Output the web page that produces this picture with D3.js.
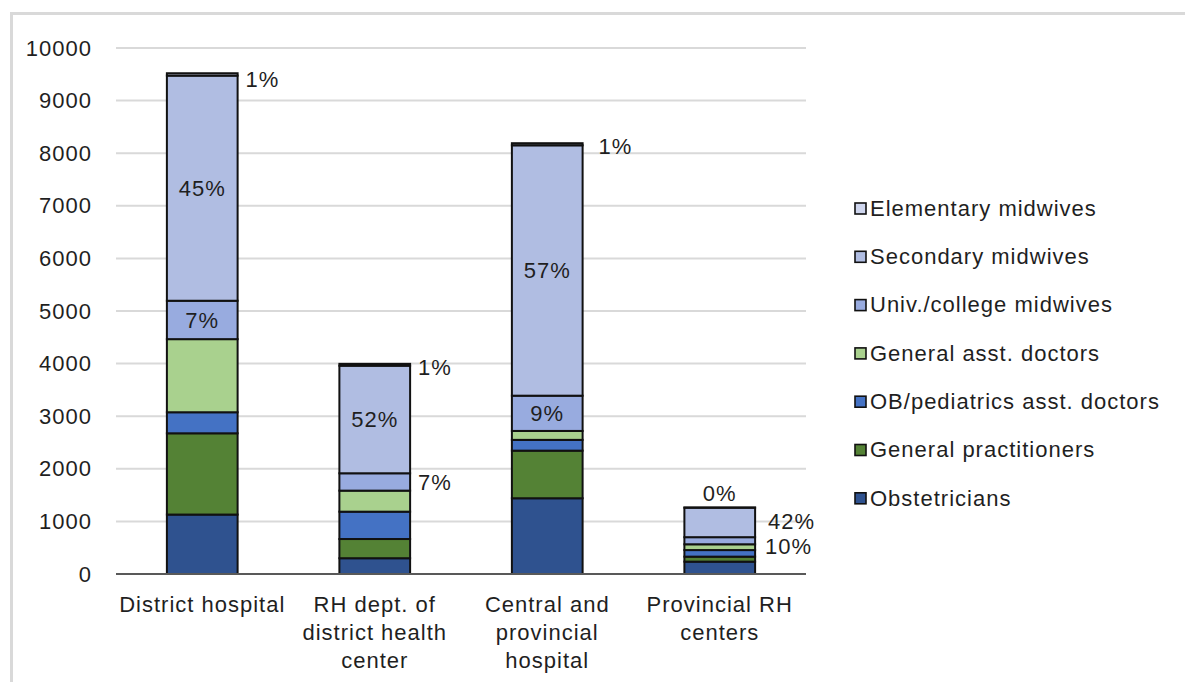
<!DOCTYPE html>
<html>
<head>
<meta charset="utf-8">
<script src="https://cdn.jsdelivr.net/npm/d3@7"></script>
<style>
  body { margin: 0; background: #fff; }
  text { font-family: "Liberation Sans", Arial, sans-serif; fill: #1f1f1f; }
</style>
</head>
<body>
<svg id="chart" width="1185" height="682"></svg>
<script>
// Stacked bars: maternal health staff by facility type
const categories = [
  "District hospital",
  "RH dept. of\ndistrict health\ncenter",
  "Central and\nprovincial\nhospital",
  "Provincial RH\ncenters"
];

// series bottom -> top
const seriesNames = [
  "Obstetricians",
  "General practitioners",
  "OB/pediatrics asst. doctors",
  "General asst. doctors",
  "Univ./college midwives",
  "Secondary midwives",
  "Elementary midwives"
];
const obstetricians = [1130, 300, 1440, 235];
const generalPractitioners = [1545, 365, 905, 95];
const obPedAsstDoctors = [400, 520, 205, 125];
const generalAsstDoctors = [1390, 400, 170, 110];
const univMidwives = [730, 330, 670, 135];
const secondaryMidwives = [4280, 2045, 4760, 560];
const elementaryMidwives = [45, 35, 40, 5];

const yTicks = [0, 1000, 2000, 3000, 4000, 5000, 6000, 7000, 8000, 9000, 10000];

// data labels shown on the midwife series
const univLabels = ["7%", "7%", "9%", "10%"];
const secondaryLabels = ["45%", "52%", "57%", "42%"];
const elementaryLabels = ["1%", "1%", "1%", "0%"];

const colors = ["#2f528f", "#548235", "#4472c4", "#a9d18e", "#98abdf", "#b0bde2", "#cfd6ee"];

(function() {
  const svg = d3.select("#chart");
  const margin = { top: 48, left: 116 };
  const innerW = 690, innerH = 526;
  const fs = 22, ls = 1;

  // outer frame
  svg.append("rect")
    .attr("x", 11.5).attr("y", 13.5)
    .attr("width", 1200).attr("height", 700)
    .attr("fill", "none")
    .attr("stroke", "#d9d9d9")
    .attr("stroke-width", 3);

  const g = svg.append("g").attr("transform", `translate(${margin.left},${margin.top})`);

  const rows = categories.map((c, i) => ({
    cat: c,
    [seriesNames[0]]: obstetricians[i],
    [seriesNames[1]]: generalPractitioners[i],
    [seriesNames[2]]: obPedAsstDoctors[i],
    [seriesNames[3]]: generalAsstDoctors[i],
    [seriesNames[4]]: univMidwives[i],
    [seriesNames[5]]: secondaryMidwives[i],
    [seriesNames[6]]: elementaryMidwives[i]
  }));

  const x = d3.scaleBand().domain(categories).range([0, innerW]).paddingInner(0.59).paddingOuter(0.295);
  const y = d3.scaleLinear().domain([0, 10000]).range([innerH, 0]);
  const color = d3.scaleOrdinal().domain(seriesNames).range(colors);

  // gridlines
  g.selectAll(".grid")
    .data(yTicks.filter(t => t > 0))
    .join("line")
    .attr("x1", 0).attr("x2", innerW)
    .attr("y1", d => y(d)).attr("y2", d => y(d))
    .attr("stroke", "#d9d9d9")
    .attr("stroke-width", 2);

  // y tick labels
  const yAxis = g.append("g")
    .call(d3.axisLeft(y).tickValues(yTicks).tickFormat(d3.format("d")).tickSize(0).tickPadding(24));
  yAxis.select(".domain").remove();
  yAxis.selectAll("text")
    .attr("font-size", fs)
    .attr("letter-spacing", ls)
    .attr("fill", "#1f1f1f")
    .style("font-family", "'Liberation Sans', Arial, sans-serif");

  const stacked = d3.stack().keys(seriesNames)(rows);

  g.selectAll(".series")
    .data(stacked)
    .join("g")
    .attr("fill", d => color(d.key))
    .selectAll("rect")
    .data(d => d)
    .join("rect")
    .attr("x", d => x(d.data.cat))
    .attr("y", d => y(d[1]))
    .attr("width", x.bandwidth())
    .attr("height", d => y(d[0]) - y(d[1]))
    .attr("stroke", "#111")
    .attr("stroke-width", 2);

  // x axis line
  g.append("line")
    .attr("x1", 0).attr("x2", innerW)
    .attr("y1", innerH).attr("y2", innerH)
    .attr("stroke", "#595959")
    .attr("stroke-width", 2);

  // category labels (multi-line)
  categories.forEach(c => {
    const t = g.append("text")
      .attr("text-anchor", "middle")
      .attr("font-size", fs)
      .attr("letter-spacing", ls);
    c.split("\n").forEach((line, k) => {
      t.append("tspan")
        .attr("x", x(c) + x.bandwidth() / 2)
        .attr("y", innerH + 38 + k * 28)
        .text(line);
    });
  });

  // data labels
  function label(layer, texts, mode, dx, dy) {
    layer.forEach((d, i) => {
      const cx = x(d.data.cat) + x.bandwidth() / 2;
      const m = mode[i];
      let tx = cx, ty = (y(d[0]) + y(d[1])) / 2, anchor = "middle";
      if (m === "right") { tx = x(d.data.cat) + x.bandwidth() + 8; anchor = "start"; }
      if (m === "top") { ty = y(d[1]) - 14; }
      if (m === "corner") { tx = x(d.data.cat) + x.bandwidth() + 8; ty = y(d[1]) + 6; anchor = "start"; }
      g.append("text")
        .attr("x", tx + (dx[i] || 0))
        .attr("y", ty + (dy[i] || 0))
        .attr("dy", "0.35em")
        .attr("text-anchor", anchor)
        .attr("font-size", fs)
        .attr("letter-spacing", ls)
        .text(texts[i]);
    });
  }
  label(stacked[4], univLabels, ["in", "right", "in", "right"], [0, 0, 0, 2], [0, 0, 0, 6]);
  label(stacked[5], secondaryLabels, ["in", "in", "in", "right"], [0, 0, 0, 5], [0, 0, 0, -1]);
  label(stacked[6], elementaryLabels, ["corner", "corner", "corner", "top"], [0, 0, 8, 0], [0, -3, -3, 0]);

  // legend (top entry = top of stack)
  const legend = svg.append("g").attr("transform", "translate(855,208)");
  const order = seriesNames.slice().reverse();
  order.forEach((name, i) => {
    const row = legend.append("g").attr("transform", `translate(0,${i * 48.3})`);
    row.append("rect")
      .attr("x", 0).attr("y", -5)
      .attr("width", 11).attr("height", 11)
      .attr("fill", color(name))
      .attr("stroke", "#111")
      .attr("stroke-width", 1.6);
    row.append("text")
      .attr("x", 15)
      .attr("y", 0)
      .attr("dy", "0.35em")
      .attr("font-size", fs)
      .attr("letter-spacing", ls)
      .text(name);
  });
})();
</script>
</body>
</html>
